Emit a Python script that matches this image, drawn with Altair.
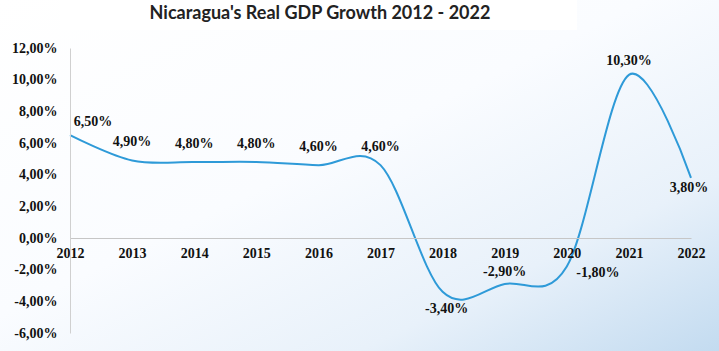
import altair as alt
import pandas as pd

years = ["2012", "2013", "2014", "2015", "2016", "2017", "2018", "2019", "2020", "2021", "2022"]
growth = [6.5, 4.9, 4.8, 4.8, 4.6, 4.6, -3.4, -2.9, -1.8, 10.3, 3.8]
y_ticks = [-6, -4, -2, 0, 2, 4, 6, 8, 10, 12]
title_text = "Nicaragua's Real GDP Growth 2012 - 2022"

df = pd.DataFrame({"year": years, "growth": growth})

W, H = 621, 285
PAD_L, PAD_T = 70, 48

fmt = "(datum.growth < 0 ? '-' : '') + replace(format(abs(datum.growth), '.2f'), '.', ',') + '%'"

x_enc = alt.X("year:O", scale=alt.Scale(type="point", padding=0),
              axis=alt.Axis(title=None, orient="bottom", offset=-95, labelAngle=0,
                            domainColor="#c6c6c6", domainWidth=1, ticks=False, zindex=1,
                            labelOverlap=False,
                            labelFont="Liberation Serif", labelFontWeight="bold",
                            labelFontSize=14, labelColor="#111111", labelPadding=8))
y_enc = alt.Y("growth:Q", scale=alt.Scale(domain=[-6, 12], nice=False, zero=False),
              axis=alt.Axis(title=None, values=y_ticks, grid=False, ticks=False, zindex=1,
                            domainColor="#d0d0d0", domainWidth=1, labelOverlap=False,
                            labelFlush=False, labelBound=False,
                            labelExpr="(datum.value < 0 ? '-' : '') + replace(format(abs(datum.value), '.2f'), '.', ',') + '%'",
                            labelFont="Liberation Serif", labelFontWeight="bold",
                            labelFontSize=14, labelColor="#111111", labelPadding=13))

bg = alt.Chart(pd.DataFrame({"a": [0]})).mark_rect(
    fill=alt.Gradient(gradient="linear", x1=0, y1=0, x2=1, y2=1,
                      stops=[alt.GradientStop(offset=0, color="#ffffff"),
                             alt.GradientStop(offset=0.45, color="#fafcff"),
                             alt.GradientStop(offset=0.75, color="#e8f1fa"),
                             alt.GradientStop(offset=1, color="#c3dbf0")])
).encode(x=alt.value(-PAD_L), x2=alt.value(719 - PAD_L), y=alt.value(-PAD_T), y2=alt.value(351 - PAD_T))

title_box = alt.Chart(pd.DataFrame({"a": [0]})).mark_rect(fill="#ffffff").encode(
    x=alt.value(60 - PAD_L), x2=alt.value(577 - PAD_L), y=alt.value(-PAD_T), y2=alt.value(30 - PAD_T))

title = alt.Chart(pd.DataFrame({"t": [title_text]})).mark_text(
    font="Lato", fontSize=18, fontWeight="bold", color="#222222", align="center", baseline="middle"
).encode(x=alt.value(320 - PAD_L), y=alt.value(14 - PAD_T), text="t:N")

base = alt.Chart(df)
line = base.mark_line(interpolate="cardinal", color="#2e9ad8", strokeWidth=2).encode(x=x_enc, y=y_enc)

placements = {
    (23, -13): ["2012"],
    (0, -18): ["2013", "2014", "2015", "2016", "2017"],
    (0, -12): ["2019"],
    (0, -14): ["2021"],
    (4, 17): ["2018"],
    (31, 6): ["2020"],
    (-2, 10): ["2022"],
}
label_layers = []
for (dx, dy), ys in placements.items():
    label_layers.append(
        base.transform_filter(alt.FieldOneOfPredicate(field="year", oneOf=ys))
        .transform_calculate(lbl=fmt)
        .mark_text(font="Liberation Serif", fontWeight="bold", fontSize=14, color="#111111",
                   dx=dx, dy=dy, align="center", baseline="middle")
        .encode(x=x_enc, y=y_enc, text="lbl:N")
    )

chart = alt.layer(bg, title_box, title, line, *label_layers).properties(
    width=W, height=H,
    autosize=alt.AutoSizeParams(type="none"),
    padding={"left": PAD_L, "top": PAD_T, "right": 719 - PAD_L - W, "bottom": 351 - PAD_T - H},
    background="#ffffff",
).configure_view(stroke=None).configure_axis(labelOverlap=False)

chart.save("out.html", embed_options={"renderer": "svg", "actions": False})
